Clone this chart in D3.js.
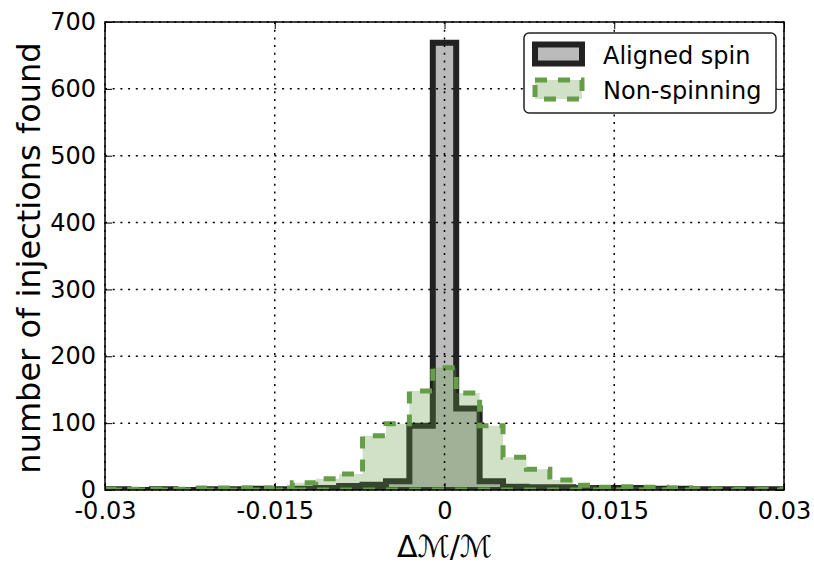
<!DOCTYPE html>
<html>
<head>
<meta charset="utf-8">
<script src="https://cdn.jsdelivr.net/npm/d3@7"></script>
<style>
  html, body { margin: 0; padding: 0; background: #fff; }
  svg { display: block; }
  text { font-family: "DejaVu Sans", sans-serif; }
</style>
</head>
<body>
<svg id="chart" width="814" height="563"></svg>
<script>
// ---- data ----
const binRange = [-0.03, 0.03];
const alignedCounts = [1,0,1,0,1,1,2,1,2,3,6,8,13,96,669,122,13,5,4,4,3,3,3,2,2,1,1,1,1];
const nonSpinCounts = [1,1,1,1,3,3,3,3,11,17,24,81,99,148,183,145,96,49,31,15,7,4,5,4,3,2,1,1,1];
const xTickValues = [-0.03, -0.015, 0, 0.015, 0.03];
const xTickLabels = ["-0.03", "-0.015", "0", "0.015", "0.03"];
const yTickValues = [0, 100, 200, 300, 400, 500, 600, 700];
const seriesNames = ["Aligned spin", "Non-spinning"];

// ---- layout ----
const W = 814, H = 563;
const L = 105, R = 784, T = 22, B = 490;
const svg = d3.select("#chart");
const x = d3.scaleLinear().domain(binRange).range([L, R]);
const y = d3.scaleLinear().domain([0, 700]).range([B, T]);

const nb = alignedCounts.length;
const binW = (binRange[1] - binRange[0]) / nb;
const edges = d3.range(nb + 1).map(i => binRange[0] + i * binW);

function stepPoints(counts) {
  const pts = [[edges[0], 0]];
  counts.forEach((c, i) => { pts.push([edges[i], c]); pts.push([edges[i + 1], c]); });
  pts.push([edges[nb], 0]);
  return pts;
}
const line = d3.line().x(d => x(d[0])).y(d => y(d[1]));

svg.append("defs").append("clipPath").attr("id", "clip")
  .append("rect").attr("x", L).attr("y", T).attr("width", R - L).attr("height", B - T);

const plot = svg.append("g").attr("clip-path", "url(#clip)");

plot.append("path")
  .attr("d", line(stepPoints(alignedCounts)) + "Z")
  .attr("fill", "#bbbbbb")
  .attr("stroke", "#222222")
  .attr("stroke-width", 6)
  .attr("stroke-linejoin", "miter");

plot.append("path")
  .attr("d", line(stepPoints(nonSpinCounts)) + "Z")
  .attr("fill", "rgba(99,154,69,0.3)")
  .attr("stroke", "#669d48")
  .attr("stroke-width", 5)
  .attr("stroke-dasharray", "12,11");

// grid (drawn on top, classic style)
const grid = svg.append("g");
xTickValues.forEach(v => {
  grid.append("line").attr("x1", x(v)).attr("x2", x(v)).attr("y1", T).attr("y2", B)
    .attr("stroke", "#000").attr("stroke-width", 1.5).attr("stroke-dasharray", "2,5.7");
});
yTickValues.forEach(v => {
  grid.append("line").attr("x1", L).attr("x2", R).attr("y1", y(v)).attr("y2", y(v))
    .attr("stroke", "#000").attr("stroke-width", 1.5).attr("stroke-dasharray", "2,5.7");
});

// axes
const fmt = (d) => xTickLabels[xTickValues.indexOf(d)];
const ax = svg.append("g").attr("transform", `translate(0,${B})`)
  .call(d3.axisBottom(x).tickValues(xTickValues).tickFormat(fmt).tickSizeInner(-7).tickSizeOuter(0).tickPadding(12));
const axTop = svg.append("g").attr("transform", `translate(0,${T})`)
  .call(d3.axisTop(x).tickValues(xTickValues).tickFormat("").tickSizeInner(-7).tickSizeOuter(0));
const ay = svg.append("g").attr("transform", `translate(${L},0)`)
  .call(d3.axisLeft(y).tickValues(yTickValues).tickFormat(d3.format("d")).tickSizeInner(-7).tickSizeOuter(0).tickPadding(9));
const ayR = svg.append("g").attr("transform", `translate(${R},0)`)
  .call(d3.axisRight(y).tickValues(yTickValues).tickFormat("").tickSizeInner(-7).tickSizeOuter(0));
[ax, axTop, ay, ayR].forEach(g => {
  g.select(".domain").remove();
  g.selectAll(".tick line").attr("stroke", "#000").attr("stroke-width", 1);
  g.selectAll(".tick text").attr("font-family", "DejaVu Sans").attr("font-size", 24).attr("fill", "#000");
});

// frame
svg.append("rect").attr("x", L).attr("y", T).attr("width", R - L).attr("height", B - T)
  .attr("fill", "none").attr("stroke", "#000").attr("stroke-width", 1.5);

// labels
svg.append("text")
  .attr("transform", `translate(40,${(T + B) / 2 + 2}) rotate(-90)`)
  .attr("text-anchor", "middle")
  .attr("font-size", 32)
  .attr("fill", "#000")
  .text("number of injections found");

svg.append("text")
  .attr("x", (L + R) / 2).attr("y", 557)
  .attr("text-anchor", "middle")
  .attr("font-family", "DejaVu Serif")
  .attr("font-size", 30)
  .attr("fill", "#000")
  .text("Δℳ/ℳ");

// legend
const lg = svg.append("g");
lg.append("rect").attr("x", 524).attr("y", 33).attr("width", 252).attr("height", 80).attr("rx", 5)
  .attr("fill", "#fff").attr("stroke", "#222").attr("stroke-width", 1.5);
lg.append("rect").attr("x", 535).attr("y", 44.5).attr("width", 47).attr("height", 19)
  .attr("fill", "#bbbbbb").attr("stroke", "#222222").attr("stroke-width", 6);
lg.append("rect").attr("x", 535).attr("y", 80).attr("width", 47).attr("height", 19)
  .attr("fill", "rgba(99,154,69,0.3)").attr("stroke", "#669d48").attr("stroke-width", 5)
  .attr("stroke-dasharray", "12,11");
seriesNames.forEach((n, i) => {
  lg.append("text").attr("x", 603).attr("y", 55 + i * 35).attr("dy", "0.36em")
    .attr("font-size", 24).attr("fill", "#000").text(n);
});
</script>
</body>
</html>
